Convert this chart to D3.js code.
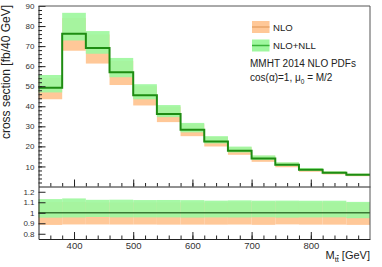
<!DOCTYPE html>
<html>
<head>
<meta charset="utf-8">
<script src="https://cdn.jsdelivr.net/npm/d3@7"></script>
<style>
  body { margin: 0; background: #fff; }
  svg { display: block; font-family: "Liberation Sans", Arial, sans-serif; }
</style>
</head>
<body>
<div id="chart"></div>
<script>
// bins of 40 GeV in M_tt
const binLow = [340, 380, 420, 460, 500, 540, 580, 620, 660, 700, 740, 780, 820, 860];
const binWidth = 40;

// NLO+NLL central value and scale band [fb/40 GeV]
const nllCentral = [49.2, 76.2, 69.0, 57.0, 45.5, 36.2, 28.3, 22.5, 17.8, 13.9, 10.8, 8.3, 6.8, 5.8];
const nllHigh    = [55.6, 86.6, 77.5, 64.1, 51.0, 40.6, 31.7, 25.1, 19.9, 15.5, 12.05, 9.25, 7.58, 6.4];
const nllLow     = [46.9, 72.8, 66.2, 54.5, 43.5, 34.6, 27.0, 21.5, 17.0, 13.3, 10.3, 7.93, 6.5, 5.5];

// NLO scale band [fb/40 GeV]
const nloHigh = [54.2, 84.0, 75.8, 62.6, 50.0, 39.8, 31.1, 24.7, 19.6, 15.3, 11.9, 9.12, 7.48, 6.35];
const nloLow  = [43.5, 67.7, 61.3, 50.6, 40.4, 32.1, 25.1, 19.95, 15.8, 12.3, 9.6, 7.36, 6.03, 5.13];

const yTicksTop = [10, 20, 30, 40, 50, 60, 70, 80, 90];
const yTicksRatio = [0.8, 0.9, 1, 1.1, 1.2];
const xTicks = [400, 500, 600, 700, 800];

const width = 382, height = 267;
const svg = d3.select('#chart').append('svg')
    .attr('width', width)
    .attr('height', height);

const x = d3.scaleLinear().domain([340, 900]).range([38.5, 370]);
const yTop = d3.scaleLinear().domain([0, 90]).range([186.5, 6]);
const yRat = d3.scaleLinear().domain([0.75, 1.25]).range([239, 186.5]);

const GREEN = '#9ff79f';
const ORANGE = '#ffc898';
const LINE = '#1e8c12';

const bins = binLow.map((b, i) => ({
    x0: b, x1: b + binWidth,
    c: nllCentral[i], gh: nllHigh[i], gl: nllLow[i],
    oh: nloHigh[i], ol: nloLow[i]
}));

// band drawing helper
function drawBands(g, y, lo, hi, fill, opacity) {
    g.selectAll(null)
        .data(bins)
        .enter().append('rect')
        .attr('x', d => x(d.x0))
        .attr('width', d => x(d.x1) - x(d.x0))
        .attr('y', d => y(hi(d)))
        .attr('height', d => y(lo(d)) - y(hi(d)))
        .attr('fill', fill)
        .attr('fill-opacity', opacity);
}

// step line through bin values
function stepPath(y, val) {
    const pts = [];
    bins.forEach(d => {
        pts.push([x(d.x0), y(val(d))]);
        pts.push([x(d.x1), y(val(d))]);
    });
    return d3.line()(pts);
}

// ---- upper panel ----
const upper = svg.append('g');
drawBands(upper, yTop, d => d.ol, d => d.oh, ORANGE, 1);
drawBands(upper, yTop, d => d.gl, d => d.gh, GREEN, 0.93);
upper.append('path')
    .attr('d', stepPath(yTop, d => d.c))
    .attr('fill', 'none')
    .attr('stroke', LINE)
    .attr('stroke-width', 2);

// ---- ratio panel ----
const rat = svg.append('g');
drawBands(rat, yRat, d => d.ol / d.c, d => d.oh / d.c, ORANGE, 1);
drawBands(rat, yRat, d => d.gl / d.c, d => d.gh / d.c, GREEN, 0.93);
rat.append('path')
    .attr('d', stepPath(yRat, d => d.c / d.c))
    .attr('fill', 'none')
    .attr('stroke', '#3b7a35')
    .attr('stroke-width', 1.5);

// ---- axes ----
function styleAxis(g) {
    g.selectAll('path, line').attr('stroke', '#222');
    g.selectAll('text').attr('fill', '#333').attr('font-size', 8);
}

// upper y axis, major and minor ticks pointing inwards
svg.append('g')
    .attr('transform', `translate(${x(340)},0)`)
    .call(d3.axisLeft(yTop).tickValues(yTicksTop).tickSizeInner(-7).tickSizeOuter(0).tickPadding(4))
    .call(styleAxis);
svg.append('g')
    .attr('transform', `translate(${x(340)},0)`)
    .call(d3.axisLeft(yTop).tickValues(d3.range(2, 90, 2)).tickSize(-3.5).tickFormat(''))
    .call(g => g.select('.domain').remove())
    .call(styleAxis);

// ratio y axis
svg.append('g')
    .attr('transform', `translate(${x(340)},0)`)
    .call(d3.axisLeft(yRat).tickValues(yTicksRatio).tickFormat(d3.format('')).tickSizeInner(-7).tickSizeOuter(0).tickPadding(4))
    .call(styleAxis);

// x axes: upper (no labels) and ratio (with labels)
[[yTop(0), false], [yRat(0.75), true]].forEach(([yPos, labels]) => {
    const major = d3.axisBottom(x).tickValues(xTicks).tickSizeInner(-7).tickSizeOuter(0).tickPadding(3);
    if (!labels) major.tickFormat('');
    svg.append('g')
        .attr('transform', `translate(0,${yPos})`)
        .call(major)
        .call(styleAxis)
        .call(g => g.selectAll('text').attr('font-size', 9.5));
    svg.append('g')
        .attr('transform', `translate(0,${yPos})`)
        .call(d3.axisBottom(x).tickValues(d3.range(360, 900, 20)).tickSize(-3.5).tickFormat(''))
        .call(g => g.select('.domain').remove())
        .call(styleAxis);
});

// frame top and right
svg.append('path')
    .attr('d', `M${x(340)},${yTop(90)}H${x(900)}V${yRat(0.75)}`)
    .attr('fill', 'none')
    .attr('stroke', '#555')
    .attr('stroke-width', 1);

// axis titles
svg.append('text')
    .attr('transform', 'translate(10,5) rotate(-90)')
    .attr('text-anchor', 'end')
    .attr('font-size', 12)
    .attr('fill', '#222')
    .text('cross section [fb/40 GeV]');

const xt = svg.append('text')
    .attr('x', 370)
    .attr('y', 259)
    .attr('text-anchor', 'end')
    .attr('font-size', 11)
    .attr('fill', '#222');
xt.append('tspan').text('M');
xt.append('tspan').attr('font-size', 7.5).attr('dy', 3).text('t');
xt.append('tspan').attr('font-size', 7.5).attr('text-decoration', 'overline').text('t');
xt.append('tspan').attr('dy', -3).text(' [GeV]');

// ---- legend ----
const legendItems = [
    { label: 'NLO', fill: ORANGE, line: '#e9a468' },
    { label: 'NLO+NLL', fill: GREEN, line: '#39b339' }
];
const leg = svg.append('g').attr('transform', 'translate(252,21)');
legendItems.forEach((item, i) => {
    const g = leg.append('g').attr('transform', `translate(0,${i * 18.5})`);
    g.append('rect').attr('width', 17.5).attr('height', 12).attr('fill', item.fill);
    g.append('line').attr('x1', 0).attr('x2', 17.5).attr('y1', 6).attr('y2', 6)
        .attr('stroke', item.line).attr('stroke-width', 1.5);
    g.append('text').attr('x', 21).attr('y', 9.8).attr('font-size', 9.6).attr('fill', '#222').text(item.label);
});

svg.append('text')
    .attr('x', 250).attr('y', 66.5)
    .attr('font-size', 10).attr('fill', '#222')
    .text('MMHT 2014 NLO PDFs');
const note = svg.append('text')
    .attr('x', 250).attr('y', 81)
    .attr('font-size', 10).attr('fill', '#222');
note.append('tspan').text('cos(α)=1, μ');
note.append('tspan').attr('font-size', 6.5).attr('dy', 3).text('0');
note.append('tspan').attr('dy', -3).text(' = M/2');
</script>
</body>
</html>
